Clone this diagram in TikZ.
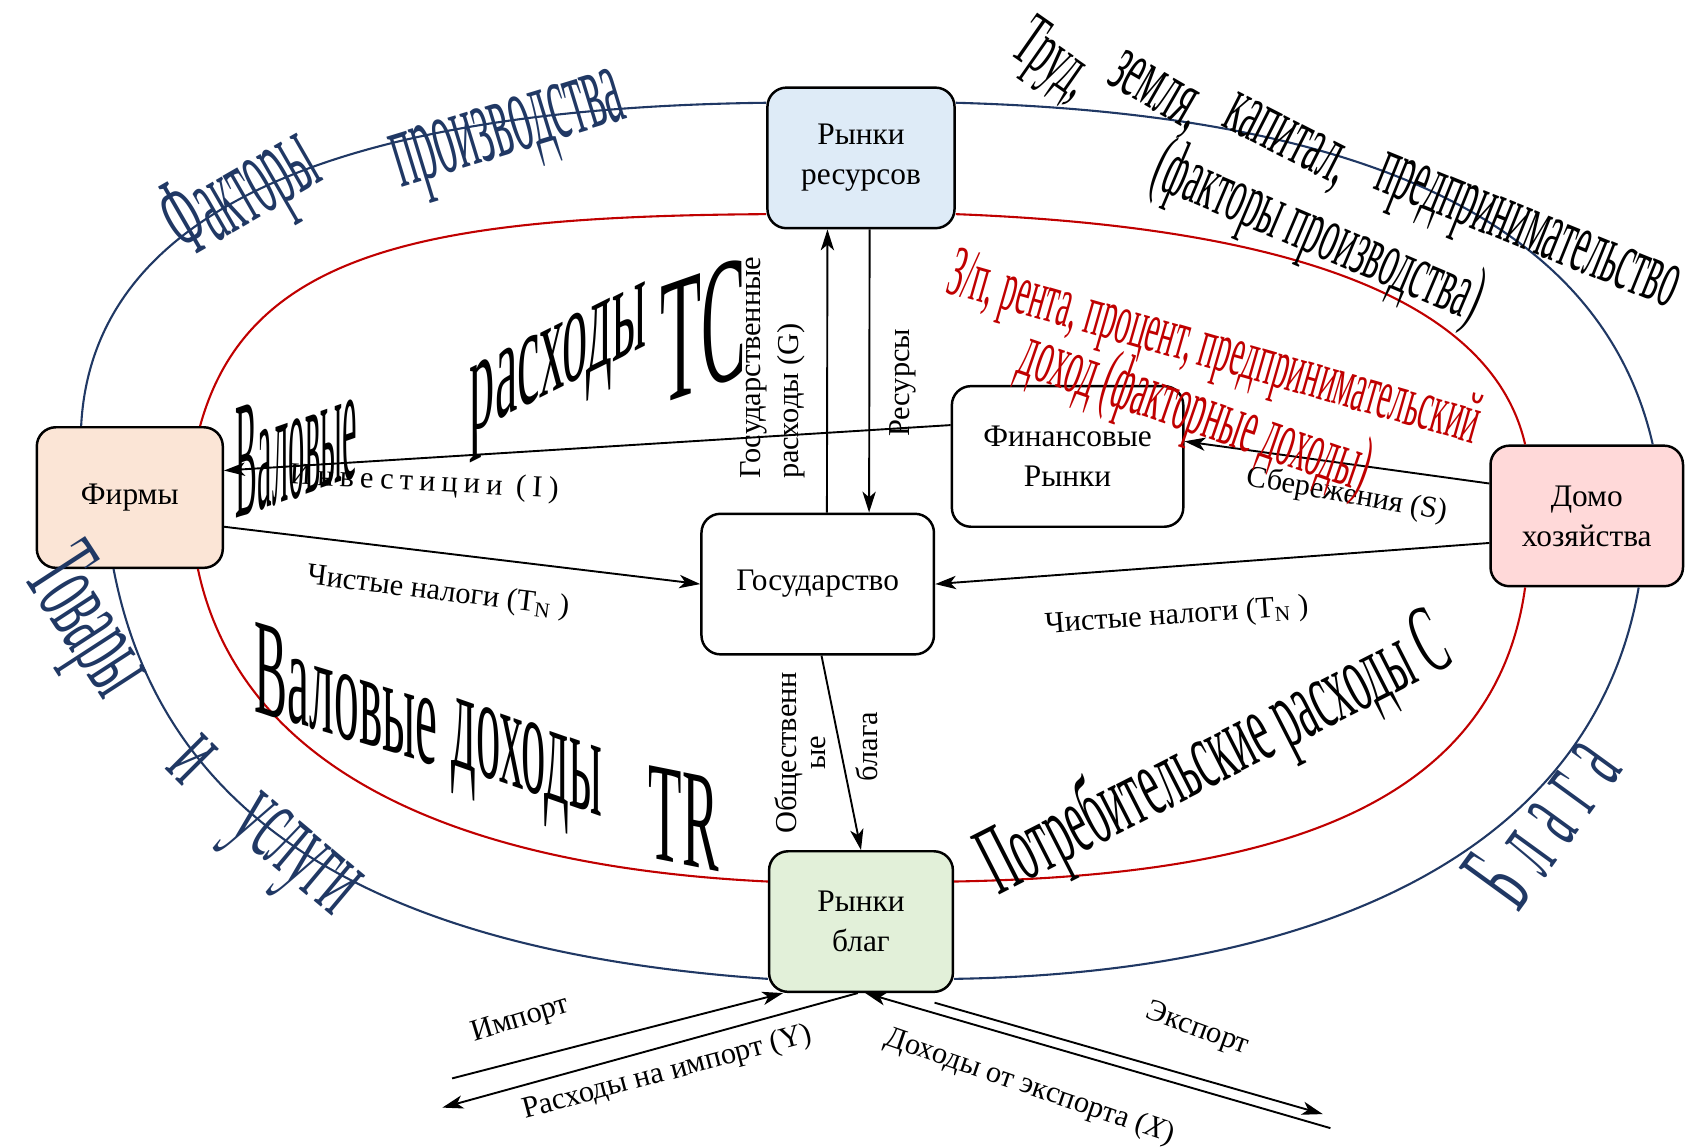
\documentclass[tikz,border=0pt]{standalone}
\usepackage{fontspec}
\setmainfont{Liberation Serif}
\usepackage{tikz}
\usetikzlibrary{arrows.meta}
\definecolor{navy}{HTML}{203864}
\definecolor{brick}{HTML}{C00000}
\definecolor{resfill}{HTML}{DEEBF7}
\definecolor{firmfill}{HTML}{FBE5D6}
\definecolor{homefill}{HTML}{FFD9D9}
\definecolor{goodfill}{HTML}{E2F0D9}
\newcommand{\wart}[3]{\scalebox{#1}[#2]{#3}}

\begin{document}
\begin{tikzpicture}[x=0.02cm, y=-0.02cm,
                    block/.style={rectangle, rounded corners=10pt, draw, line width=1.3pt, align=center,
                                  minimum height=2.6cm, font=\fontsize{16.5}{21}\selectfont},
                    flow/.style={-{Stealth[length=11pt,width=7pt,inset=3pt]}, line width=1pt},
                    outer/.style={navy, line width=1.1pt},
                    inner/.style={brick, line width=1.1pt},
                    lbl/.style={inner sep=0pt, font=\fontsize{16}{20}\selectfont},
                    art/.style={inner sep=0pt, font=\fontsize{20}{20}\selectfont}]
  \useasboundingbox (0,0) rectangle (1568,1060);

  % markets, sectors
  \node[block, fill=resfill, minimum width=3.46cm] (res) at (796,146) {Рынки\\ресурсов};
  \node[block, fill=firmfill, minimum width=3.44cm] (firms) at (120,460) {Фирмы};
  \node[block, fill=homefill, minimum width=3.56cm] (house) at (1467,477) {Домо\\хозяйства};
  \node[block, fill=white, minimum width=4.28cm] (fin) at (987,422) {Финансовые\\Рынки};
  \node[block, fill=white, minimum width=4.3cm] (gov) at (756,540) {Государство};
  \node[block, fill=goodfill, minimum width=3.4cm] (goods) at (796,852) {Рынки\\благ};

  % outer and inner circuits
  \draw[outer] ([xshift=-0.9cm]firms.north) .. controls (85,200) and (300,100) .. ([yshift=1.02cm]res.west);
  \draw[outer] ([yshift=1.02cm]res.east) .. controls (1250,105) and (1480,200) .. ([xshift=1.22cm]house.north);
  \draw[outer] ([xshift=0.96cm]house.south) .. controls (1470,800) and (1200,900) .. ([yshift=-1.06cm]goods.east);
  \draw[outer] ([yshift=-1.06cm]goods.west) .. controls (350,880) and (150,760) .. ([xshift=-0.3cm]firms.south);
  \draw[inner] ([xshift=1.3cm]firms.north) .. controls (230,230) and (400,200) .. ([yshift=-1.04cm]res.west);
  \draw[inner] ([yshift=-1.04cm]res.east) .. controls (1200,210) and (1380,280) .. ([xshift=-1.14cm]house.north);
  \draw[inner] ([xshift=-1.14cm]house.south) .. controls (1380,760) and (1150,810) .. ([yshift=0.74cm]goods.east);
  \draw[inner] ([yshift=0.74cm]goods.west) .. controls (400,800) and (220,700) .. ([xshift=1.26cm]firms.south);

  % flows
  \draw[flow] ([xshift=0.17cm]gov.north) -- ([xshift=-0.62cm]res.south);
  \draw[flow] ([xshift=0.16cm]res.south) -- ([xshift=0.95cm]gov.north);
  \draw[flow] ([yshift=0.58cm]fin.west) -- ([yshift=0.5cm]firms.east);
  \draw[flow] ([yshift=0.6cm]house.west) -- ([yshift=0.28cm]fin.east);
  \draw[flow] ([yshift=-0.54cm]firms.east) -- (gov.west);
  \draw[flow] ([yshift=-0.5cm]house.west) -- (gov.east);
  \draw[flow] ([xshift=0.07cm]gov.south) -- (goods.north);
  \coordinate (imp0) at (418,997);
  \coordinate (impY) at (409,1024);
  \coordinate (expX) at (1230,1043);
  \coordinate (exp0) at (864,927);
  \coordinate (exp1) at (1223,1030);
  \draw[flow] (imp0) -- ([xshift=-1.44cm]goods.south);
  \draw[flow] ([xshift=-0.06cm]goods.south) -- (impY);
  \draw[flow] (expX) -- ([xshift=0.08cm]goods.south);
  \draw[flow] (exp0) -- (exp1);

  % flow labels
  \node[lbl, rotate=90, align=left] (govexp) at (714,340) {Государственные\\расходы (G)};
  \node[lbl, rotate=90] (resl) at (835,354) {Ресурсы};
  \node[lbl, rotate=-3] (invl) at (392,447) {\addfontfeature{LetterSpace=20}Инвестиции (I)};
  \node[lbl, rotate=-10] (savl) at (1245,458) {Сбережения (S)};
  \node[lbl, rotate=-7] (taxl) at (405,548) {Чистые налоги (T\textsubscript{N} )};
  \node[lbl, rotate=4] (taxr) at (1088,570) {Чистые налоги (T\textsubscript{N} )};
  \node[lbl, rotate=90, align=center, font=\fontsize{16}{15}\selectfont] (publ) at (740,696) {Общественн\\ые};
  \node[lbl, rotate=90] (publg) at (801,690) {блага};
  \node[lbl, rotate=17] (impl) at (481,943) {Импорт};
  \node[lbl, rotate=15] (impyl) at (617,992) {Расходы на импорт (Y)};
  \node[lbl, rotate=-19] (expxl) at (952,1005) {Доходы от экспорта (\textit{X})};
  \node[lbl, rotate=-20] (expl) at (1107,952) {Экспорт};

  % word art
  \node[art, navy, rotate=30] (fac1) at (225,182) {\wart{1.1}{3.1}{Факторы}};
  \node[art, navy, rotate=17] (fac2) at (472,128) {\wart{1.1}{3.0}{производства}};
  \node[art, rotate=-35] (lab1) at (972,58) {\wart{0.95}{2.0}{Труд,}};
  \node[art, rotate=-30] (lab2) at (1067,88) {\wart{0.95}{2.2}{земля,}};
  \node[art, rotate=-27] (lab3) at (1188,133) {\wart{0.95}{2.2}{капитал,}};
  \node[art, rotate=-22] (lab4) at (1410,220) {\wart{0.9}{2.3}{предпринимательство}};
  \node[art, rotate=-23] (lab5) at (1218,218) {\wart{0.9}{2.1}{(факторы производства)}};
  \node[art, brick, rotate=-16] (inc1) at (1122,325) {\wart{0.8}{1.9}{З/п, рента, процент, предпринимательский}};
  \node[art, brick, rotate=-19] (inc2) at (1105,383) {\wart{0.85}{2.1}{доход (факторные доходы)}};
  \node[art, yslant=0.35] (tc1) at (274,410) {\wart{0.86}{4.4}{Валовые}};
  \node[art, yslant=0.5] (tc2) at (516,343) {\wart{1.33}{3.7}{расходы}};
  \node[art, yslant=0.35] (tc3) at (650,306) {\wart{1.77}{4.7}{TC}};
  \node[art, yslant=-0.3] (tr1) at (320,642) {\wart{1.3}{3.6}{Валовые}};
  \node[art, yslant=-0.35] (tr2) at (487,712) {\wart{1.28}{3.9}{доходы}};
  \node[art, yslant=-0.2] (tr3) at (632,757) {\wart{1.44}{3.7}{TR}};
  \node[art, rotate=27] (cons) at (1124,700) {\wart{1.12}{2.6}{Потребительские расходы С}};
  \node[art, navy, rotate=-57] (gds1) at (78,578) {\wart{1.25}{3.0}{Товары}};
  \node[art, navy, rotate=-45] (gds2) at (178,702) {\wart{1.3}{3.0}{и}};
  \node[art, navy, rotate=-40] (gds3) at (268,797) {\wart{1.25}{3.0}{услуги}};
  \node[art, navy, rotate=54] (bl) at (1425,758) {\wart{1.25}{3.0}{\addfontfeature{LetterSpace=35}Блага}};
\end{tikzpicture}
\end{document}
